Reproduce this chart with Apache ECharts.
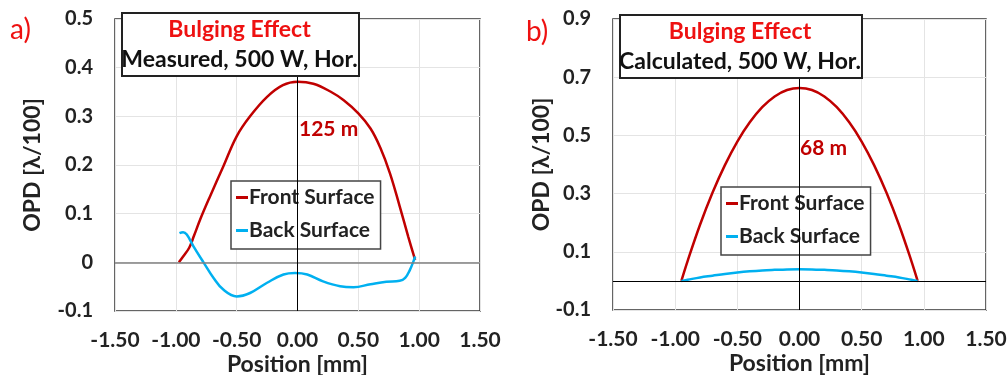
<!DOCTYPE html>
<html>
<head>
<meta charset="utf-8">
<script src="https://cdn.jsdelivr.net/npm/echarts@6/dist/echarts.min.js"></script>
<style>html,body{margin:0;padding:0;background:#fff}#c{width:1008px;height:375px}</style>
</head>
<body>
<div id="c"></div>
<script>
// ---- data ----
const xTicks = [-1.5, -1.0, -0.5, 0.0, 0.5, 1.0, 1.5];
const yTicksA = [-0.1, 0, 0.1, 0.2, 0.3, 0.4, 0.5];
const yTicksB = [-0.1, 0.1, 0.3, 0.5, 0.7, 0.9];
const seriesNames = ['Front Surface', 'Back Surface'];

const frontMeasured = [[-0.975,0],[-0.94,0.012],[-0.89,0.03],[-0.85,0.055],[-0.80,0.088],[-0.72,0.135],[-0.61,0.197],[-0.50,0.259],[-0.39,0.300],[-0.25,0.340],[-0.12,0.364],[0,0.371],[0.13,0.367],[0.27,0.351],[0.38,0.333],[0.50,0.306],[0.60,0.275],[0.68,0.236],[0.76,0.183],[0.84,0.115],[0.91,0.053],[0.967,0.005]];
const backMeasured = [[-0.97,0.060],[-0.94,0.062],[-0.91,0.057],[-0.855,0.033],[-0.77,-0.001],[-0.69,-0.032],[-0.61,-0.056],[-0.50,-0.070],[-0.39,-0.063],[-0.25,-0.042],[-0.115,-0.025],[-0.02,-0.022],[0.08,-0.025],[0.21,-0.039],[0.35,-0.049],[0.46,-0.051],[0.60,-0.045],[0.73,-0.040],[0.84,-0.038],[0.885,-0.032],[0.925,-0.015],[0.953,0.002],[0.967,0.012]];
const frontCalc = [[-0.95,0],[-0.9,0.068],[-0.8,0.193],[-0.7,0.303],[-0.6,0.398],[-0.5,0.479],[-0.4,0.545],[-0.3,0.597],[-0.2,0.634],[-0.1,0.656],[0,0.663],[0.1,0.656],[0.2,0.634],[0.3,0.597],[0.4,0.545],[0.5,0.479],[0.6,0.398],[0.7,0.303],[0.8,0.193],[0.9,0.068],[0.95,0]];
const backCalc = [[-0.95,0],[-0.9,0.004],[-0.8,0.012],[-0.7,0.018],[-0.6,0.024],[-0.5,0.029],[-0.4,0.033],[-0.3,0.036],[-0.2,0.038],[-0.1,0.0396],[0,0.040],[0.1,0.0396],[0.2,0.038],[0.3,0.036],[0.4,0.033],[0.5,0.029],[0.6,0.024],[0.7,0.018],[0.8,0.012],[0.9,0.004],[0.95,0]];

const FONT = 'Lato';
const FRONT = '#c00000', BACK = '#00b0f0';

const chart = echarts.init(document.getElementById('c'), null, {renderer: 'canvas'});

function xAxisCfg(gi) {
  return {
    type: 'value', gridIndex: gi, min: xTicks[0], max: xTicks[xTicks.length-1], interval: 0.5,
    axisLine: {show: false, onZero: false}, axisTick: {show: false},
    splitLine: {show: true, lineStyle: {color: '#e4e4e4', width: 1}},
    axisLabel: {formatter: v => v.toFixed(2), fontFamily: FONT, fontWeight: 'bold', fontSize: 21, color: '#222', margin: 19},
    name: 'Position [mm]', nameLocation: 'middle', nameGap: 42, nameMoveOverlap: false,
    nameTextStyle: {fontFamily: FONT, fontWeight: 'bold', fontSize: 23, color: '#222'}
  };
}
function yAxisCfg(gi, ticks, interval, gap) {
  return {
    type: 'value', gridIndex: gi, min: ticks[0], max: ticks[ticks.length-1], interval: interval,
    axisLine: {show: false, onZero: false}, axisTick: {show: false},
    splitLine: {show: true, lineStyle: {color: '#e4e4e4', width: 1}},
    axisLabel: {formatter: v => Math.abs(v) < 1e-9 ? '0' : v.toFixed(1), fontFamily: FONT, fontWeight: 'bold', fontSize: 20, color: '#222', margin: 22},
    name: 'OPD [λ/100]', nameLocation: 'middle', nameGap: gap, nameMoveOverlap: false,
    nameTextStyle: {fontFamily: FONT, fontWeight: 'bold', fontSize: 23, color: '#222'}
  };
}
function zeroLines(gi, hColor, hWidth) {
  return {
    type: 'line', xAxisIndex: gi, yAxisIndex: gi, data: [], z: 1, silent: true,
    markLine: {
      silent: true, symbol: ['none', 'none'], label: {show: false}, animation: false,
      data: [
        {yAxis: 0, lineStyle: {color: hColor, width: hWidth, type: 'solid'}},
        {xAxis: 0, lineStyle: {color: '#000', width: 1, type: 'solid'}}
      ]
    }
  };
}
function curve(name, gi, data, color) {
  return {
    name: name, type: 'line', xAxisIndex: gi, yAxisIndex: gi, data: data, smooth: 0.4,
    showSymbol: false, symbol: 'none', z: 3,
    lineStyle: {color: color, width: 2.5}, itemStyle: {color: color}
  };
}
function legendCfg(left, top) {
  return {
    data: seriesNames, orient: 'vertical', left: left, top: top,
    icon: 'rect', itemWidth: 12, itemHeight: 3, itemGap: 12,
    backgroundColor: '#fff', borderColor: '#444', borderWidth: 1.5, padding: [6, 6, 8, 5],
    selectedMode: false,
    textStyle: {fontFamily: FONT, fontWeight: 'bold', fontSize: 21, color: '#222', padding: [0, 0, 0, -4]}
  };
}
function titleBox(x, y, w, h, line2) {
  return [
    {type: 'rect', left: x, top: y, shape: {width: w, height: h}, style: {fill: '#fff', stroke: '#222', lineWidth: 2}, z: 100},
    {type: 'text', x: x + w/2, y: y + 18, z: 101, style: {text: 'Bulging Effect', fill: '#ee1111', font: 'bold 23px ' + FONT, textAlign: 'center', textVerticalAlign: 'middle'}},
    {type: 'text', x: x + w/2, y: y + 48, z: 101, style: {text: line2, fill: '#111', font: 'bold 23px ' + FONT, textAlign: 'center', textVerticalAlign: 'middle'}}
  ];
}

chart.setOption({
  animation: false,
  backgroundColor: '#fff',
  grid: [
    {left: 115, top: 19, width: 365, height: 292, show: true, borderColor: '#333', borderWidth: 1.5, backgroundColor: 'transparent', outerBoundsMode: 'none', containLabel: false},
    {left: 613, top: 19, width: 373, height: 291, show: true, borderColor: '#333', borderWidth: 1.5, backgroundColor: 'transparent', outerBoundsMode: 'none', containLabel: false}
  ],
  xAxis: [xAxisCfg(0), xAxisCfg(1)],
  yAxis: [yAxisCfg(0, yTicksA, 0.1, 71), yAxisCfg(1, yTicksB, 0.2, 60)],
  legend: [legendCfg(231, 181), legendCfg(721, 187)],
  series: [
    zeroLines(0, '#808080', 1.5),
    zeroLines(1, '#000', 1),
    curve(seriesNames[0], 0, frontMeasured, FRONT),
    curve(seriesNames[1], 0, backMeasured, BACK),
    curve(seriesNames[0], 1, frontCalc, FRONT),
    curve(seriesNames[1], 1, backCalc, BACK)
  ],
  graphic: [
    ...titleBox(121, 12, 237, 63, 'Measured, 500 W, Hor.'),
    ...titleBox(619, 14, 242, 63, 'Calculated, 500 W, Hor.'),
    {type: 'text', x: 10, y: 30, z: 101, style: {text: 'a)', fill: '#ee1111', font: '28px ' + FONT, textVerticalAlign: 'middle'}},
    {type: 'text', x: 526, y: 32, z: 101, style: {text: 'b)', fill: '#ee1111', font: '28px ' + FONT, textVerticalAlign: 'middle'}},
    {type: 'text', x: 299, y: 129, z: 101, style: {text: '125 m', fill: FRONT, font: 'bold 21px ' + FONT, textVerticalAlign: 'middle'}},
    {type: 'text', x: 800, y: 148, z: 101, style: {text: '68 m', fill: FRONT, font: 'bold 21px ' + FONT, textVerticalAlign: 'middle'}}
  ]
});
</script>
</body>
</html>
